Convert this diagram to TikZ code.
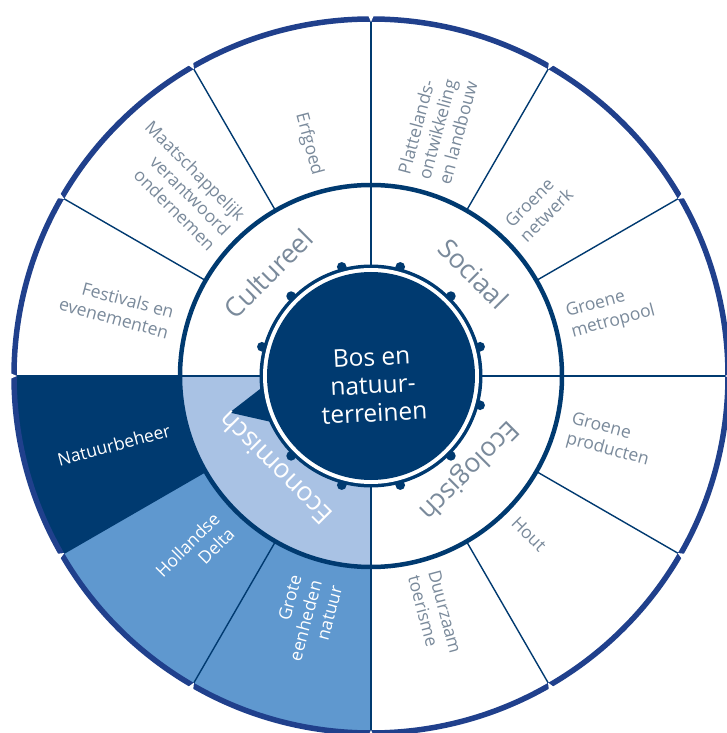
\documentclass[tikz,border=0pt]{standalone}
\usepackage{fontspec}
\setmainfont{Open Sans}
\definecolor{navy}{RGB}{0,58,112}
\definecolor{bandblue}{RGB}{32,64,140}
\definecolor{lightblue}{RGB}{169,194,228}
\definecolor{midblue}{RGB}{95,152,207}
\definecolor{graytxt}{RGB}{122,138,155}
\begin{document}
\begin{tikzpicture}[x=1pt,y=1pt,
  lbl/.style={text=graytxt, font=\fontsize{17.5}{21}\selectfont, inner sep=0pt},
  rlbl/.style={lbl, anchor=west, align=left},
  llbl/.style={lbl, anchor=east, align=right},
  ringlbl/.style={text=graytxt, font=\fontsize{26.5}{30}\selectfont, inner sep=0pt},
  divider/.style={navy, line width=1.4},
  axis/.style={navy, line width=2}]
\useasboundingbox[fill=white] (-371,-357) rectangle (355,376);
% outer coloured sectors
\fill[navy] (0,0) -- (180:357) arc[start angle=180, end angle=210, radius=357] -- cycle;
\fill[midblue] (0,0) -- (210:357) arc[start angle=210, end angle=270, radius=357] -- cycle;
% middle ring
\fill[white] (0,0) circle (191);
\fill[lightblue] (0,0) -- (180:191) arc[start angle=180, end angle=270, radius=191] -- cycle;
% dividers
\foreach \a in {0,30,...,330} \draw[divider] (\a:191) -- (\a:357);
\foreach \a in {0,90,180,270} \draw[axis] (\a:105) -- (\a:191);
% bands
\draw[bandblue, line width=5.5] (0,0) circle (357);
\draw[navy, line width=4.5] (0,0) circle (191);
\foreach \a in {0,30,...,330}
  \fill[white] (\a:354) -- ([shift={({\a+90}:3)}]\a:361) -- ([shift={({\a-90}:3)}]\a:361) -- cycle;
% centre
\fill[navy] (0,0) circle (111.5);
\foreach \a in {15,45,...,345} \fill[navy] (\a:113) circle (4.8);
\fill[navy] (185.5:108) -- (194.5:146) -- (205.5:108) -- cycle;
\fill[white] (0,0) circle (108);
\fill[navy] (0,0) circle (104);
\node[text=white, font=\fontsize{24.5}{28}\selectfont, align=center, rotate=3, inner sep=0pt] (centre) at (2,-9) {Bos en\\natuur-\\terreinen};
% middle ring labels
\node[ringlbl, rotate=45] (cult) at (135:145) {Cultureel};
\node[ringlbl, rotate=-45] (soc) at (45:145) {Sociaal};
\node[ringlbl, rotate=-135] (eco) at (-44:135) {Ecologisch};
\node[ringlbl, text=white, rotate=135] (econ) at (224:133) {Economisch};
% right half labels
\node[rlbl, rotate=75] (plat) at (75:204) {Plattelands-\\ontwikkeling\\en landbouw};
\node[rlbl, rotate=45] (netw) at (45:204) {Groene\\netwerk};
\node[rlbl, rotate=15] (metr) at (15:205) {Groene\\metropool};
\node[rlbl, rotate=-15] (prod) at (-15:205) {Groene\\producten};
\node[rlbl, rotate=-45] (hout) at (-45:203) {Hout};
\node[rlbl, rotate=-75] (duur) at (-75:204) {Duurzaam\\toerisme};
% left half labels
\node[llbl, rotate=-75] (erf) at (105:208) {Erfgoed};
\node[llbl, rotate=-45] (maat) at (135:203) {Maatschappelijk\\verantwoord\\ondernemen};
\node[llbl, rotate=-15] (fest) at (165:207) {Festivals en\\evenementen};
\node[llbl, text=white, rotate=15] (natb) at (195:208) {Natuurbeheer};
\node[llbl, text=white, rotate=45] (holl) at (225:208) {Hollandse\\Delta};
\node[llbl, text=white, rotate=75] (grot) at (255:212) {Grote\\eenheden\\natuur};
\end{tikzpicture}
\end{document}
